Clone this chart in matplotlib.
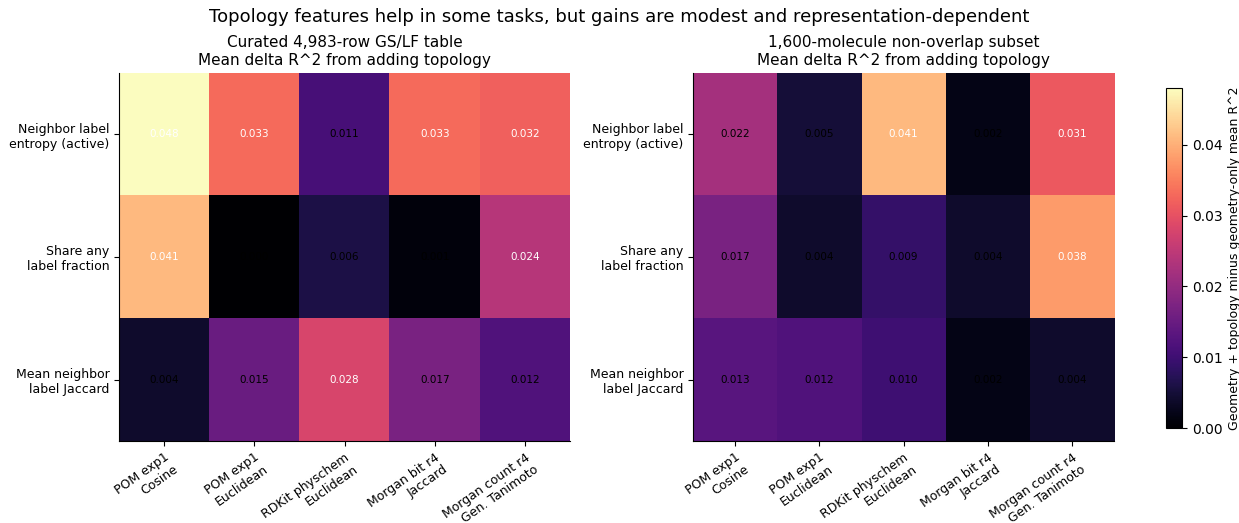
import numpy as np
import matplotlib
matplotlib.use("Agg")
import matplotlib.pyplot as plt

features = ["Neighbor label\nentropy (active)", "Share any\nlabel fraction", "Mean neighbor\nlabel Jaccard"]
representations = ["POM exp1\nCosine", "POM exp1\nEuclidean", "RDKit physchem\nEuclidean",
                   "Morgan bit r4\nJaccard", "Morgan count r4\nGen. Tanimoto"]

curated_delta = [
    [0.048, 0.033, 0.011, 0.033, 0.032],
    [0.041, 0.000, 0.006, 0.001, 0.024],
    [0.004, 0.015, 0.028, 0.017, 0.012],
]
subset_delta = [
    [0.022, 0.005, 0.041, 0.002, 0.031],
    [0.017, 0.004, 0.009, 0.004, 0.038],
    [0.013, 0.012, 0.010, 0.002, 0.004],
]

panel_titles = ["Curated 4,983-row GS/LF table\nMean delta R^2 from adding topology",
                "1,600-molecule non-overlap subset\nMean delta R^2 from adding topology"]

W, H = 1239, 523
fig = plt.figure(figsize=(W / 100, H / 100), dpi=100)

vmin = 0.0
vmax = max(np.max(curated_delta), np.max(subset_delta))

def px(x0, y0, x1, y1):
    return [x0 / W, 1 - y1 / H, (x1 - x0) / W, (y1 - y0) / H]

axes = [fig.add_axes(px(119, 73, 570, 441)), fig.add_axes(px(693, 73, 1114, 441))]

im = None
for ax, data, title in zip(axes, [curated_delta, subset_delta], panel_titles):
    arr = np.array(data)
    im = ax.imshow(arr, cmap="magma", vmin=vmin, vmax=vmax, aspect="auto", interpolation="nearest")
    for i in range(arr.shape[0]):
        for j in range(arr.shape[1]):
            v = arr[i, j]
            ax.text(j, i, f"{v:.3f}", ha="center", va="center", fontsize=7.5,
                    color="white" if v >= vmax / 2 else "black")
    ax.set_xticks(range(len(representations)))
    ax.set_xticklabels(representations, rotation=35, ha="right", rotation_mode="anchor", fontsize=9)
    ax.set_yticks(range(len(features)))
    ax.set_yticklabels(features, fontsize=9)
    ax.set_title(title, fontsize=11, pad=6)
    for s in ["top", "right"]:
        ax.spines[s].set_visible(False)

cax = fig.add_axes(px(1166, 88, 1182, 428))
cb = fig.colorbar(im, cax=cax)
cb.set_label("Geometry + topology minus geometry-only mean R^2", fontsize=9)
cb.ax.tick_params(labelsize=10)
cb.set_ticks([0.0, 0.01, 0.02, 0.03, 0.04])

fig.suptitle("Topology features help in some tasks, but gains are modest and representation-dependent",
             fontsize=13, y=1 - 17 / H, va="center")

fig.savefig("out.png", dpi=100)
